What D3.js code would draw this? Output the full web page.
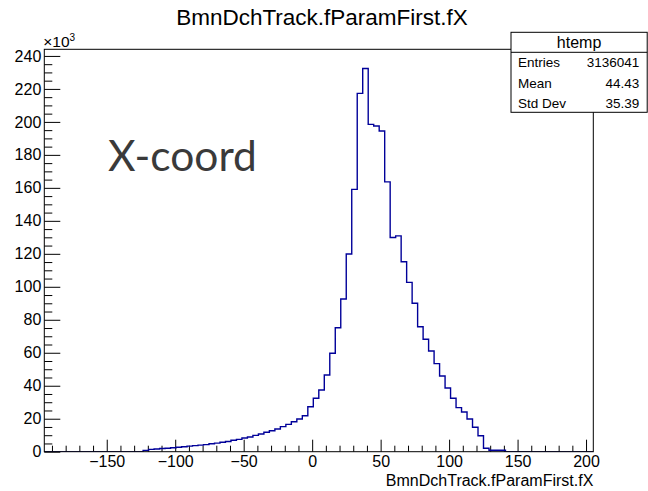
<!DOCTYPE html>
<html>
<head>
<meta charset="utf-8">
<script src="https://cdn.jsdelivr.net/npm/d3@7"></script>
<style>
  html, body { margin: 0; padding: 0; background: #fff; }
  svg { display: block; }
  text { font-family: "Liberation Sans", Arial, Helvetica, sans-serif; }
</style>
</head>
<body>
<svg id="chart" width="648" height="491"></svg>
<script>
// ---- data -------------------------------------------------------------
const plotTitle = "BmnDchTrack.fParamFirst.fX";
const xTitle = "BmnDchTrack.fParamFirst.fX";
const noteText = "X-coord";

// histogram binning (100 equal bins)
const binLow = -195.6;
const binHigh = 205.3;
const nBins = 100;
const firstFilledBin = 18;

// bin contents in thousands of entries, bins 18 .. 83
const binCountsK = [
  0.8, 1.4, 1.6, 1.9, 2.1, 2.4, 2.7, 3.0, 3.4, 3.7,
  4.0, 4.3, 4.8, 5.2, 5.7, 6.2, 6.9, 7.5, 8.3, 8.9,
  9.9, 10.7, 11.8, 12.7, 13.8, 15.2, 16.6, 18.2, 19.8, 21.8,
  27.3, 32.4, 37.4, 46.5, 59.7, 75.2, 92.6, 119.9, 159.1, 217.3,
  232.4, 198.5, 197.5, 194.5, 163.6, 129.9, 130.9, 115.2, 102.7, 90.0,
  75.8, 68.2, 61.1, 53.4, 45.9, 38.6, 32.4, 26.7, 24.1, 19.8,
  14.8, 9.7, 2.1, 0.9, 0.9, 0.9
];

const xMajorTicks = [-150, -100, -50, 0, 50, 100, 150, 200];
const yMajorTicks = [0, 20, 40, 60, 80, 100, 120, 140, 160, 180, 200, 220, 240];
const statsTitle = "htemp";
const statsLabels = ["Entries", "Mean", "Std Dev"];
const statsValues = ["3136041", "44.43", "35.39"];

// ---- layout -----------------------------------------------------------
const frame = { left: 44.3, right: 593.3, top: 49.3, bottom: 451.7 };
const lineColor = "#000099";

const svg = d3.select("#chart");

// full set of bins, zero outside the filled range
const binWidth = (binHigh - binLow) / nBins;
const bins = d3.range(nBins).map(i => {
  const k = i - firstFilledBin;
  const v = (k >= 0 && k < binCountsK.length) ? binCountsK[k] : 0;
  return { lo: binLow + i * binWidth, hi: binLow + (i + 1) * binWidth, v };
});

const x = d3.scaleLinear().domain([binLow, binHigh]).range([frame.left, frame.right]);
const yMax = 1.05 * d3.max(bins, d => d.v);
const y = d3.scaleLinear().domain([0, yMax]).range([frame.bottom, frame.top]);

// ---- axes -------------------------------------------------------------
const xMinor = d3.range(-190, 210, 10).filter(v => v % 50 !== 0);
const yMinor = d3.range(0, yMax, 5).filter(v => v % 20 !== 0);

const axisG = svg.append("g");

// x axis: ticks point up into the frame
axisG.append("g")
  .attr("transform", `translate(0,${frame.bottom})`)
  .call(d3.axisBottom(x).tickValues(xMinor).tickSize(-6).tickFormat(""))
  .call(g => g.select(".domain").remove());
axisG.append("g")
  .attr("class", "xmaj")
  .attr("transform", `translate(0,${frame.bottom})`)
  .call(d3.axisBottom(x).tickValues(xMajorTicks).tickSize(-12).tickPadding(3.5)
        .tickFormat(d => d < 0 ? "\u2212" + Math.abs(d) : String(d)))
  .call(g => g.select(".domain").remove());

// y axis: ticks point right into the frame
axisG.append("g")
  .attr("transform", `translate(${frame.left},0)`)
  .call(d3.axisLeft(y).tickValues(yMinor).tickSize(-8).tickFormat(""))
  .call(g => g.select(".domain").remove());
axisG.append("g")
  .attr("class", "ymaj")
  .attr("transform", `translate(${frame.left},0)`)
  .call(d3.axisLeft(y).tickValues(yMajorTicks).tickSize(-16).tickPadding(3))
  .call(g => g.select(".domain").remove());

axisG.selectAll(".tick line").attr("stroke", "#000").attr("stroke-width", 1);
axisG.selectAll(".tick text")
  .attr("fill", "#000")
  .style("font-family", "'Liberation Sans', Arial, sans-serif")
  .style("font-size", "16px");

// ---- histogram outline ------------------------------------------------
svg.append("clipPath").attr("id", "frameClip")
  .append("rect")
  .attr("x", frame.left).attr("y", frame.top)
  .attr("width", frame.right - frame.left)
  .attr("height", frame.bottom - frame.top);

const pts = [[x(binLow), y(0)]];
bins.forEach(b => { pts.push([x(b.lo), y(b.v)]); pts.push([x(b.hi), y(b.v)]); });
pts.push([x(binHigh), y(0)]);

svg.append("path")
  .attr("clip-path", "url(#frameClip)")
  .attr("d", d3.line()(pts))
  .attr("fill", "none")
  .attr("stroke", lineColor)
  .attr("stroke-width", 1.4)
  .attr("stroke-linejoin", "miter");

// frame box
svg.append("rect")
  .attr("x", frame.left).attr("y", frame.top)
  .attr("width", frame.right - frame.left)
  .attr("height", frame.bottom - frame.top)
  .attr("fill", "none").attr("stroke", "#000").attr("stroke-width", 1);

// exponent label above the y axis
const expo = svg.append("text")
  .attr("x", frame.left - 1).attr("y", 46.5)
  .style("font-size", "15.5px").attr("fill", "#000");
expo.append("tspan").text("\u00d710");
expo.append("tspan").attr("dy", -6).style("font-size", "10px").text("3");

// ---- titles -----------------------------------------------------------
svg.append("text")
  .attr("x", 322).attr("y", 25)
  .attr("text-anchor", "middle")
  .style("font-size", "22.5px").attr("fill", "#000")
  .text(plotTitle);

svg.append("text")
  .attr("x", frame.right).attr("y", 486)
  .attr("text-anchor", "end")
  .style("font-size", "16px").attr("fill", "#000")
  .text(xTitle);

// ---- statistics box ---------------------------------------------------
const sb = { x: 511, y: 32.3, w: 136.2, h: 80, head: 20 };
const stats = svg.append("g");
stats.append("rect")
  .attr("x", sb.x).attr("y", sb.y).attr("width", sb.w).attr("height", sb.h)
  .attr("fill", "#fff").attr("stroke", "#000").attr("stroke-width", 1);
stats.append("line")
  .attr("x1", sb.x).attr("x2", sb.x + sb.w)
  .attr("y1", sb.y + sb.head).attr("y2", sb.y + sb.head)
  .attr("stroke", "#000");
stats.append("text")
  .attr("x", sb.x + sb.w / 2).attr("y", sb.y + 15.5)
  .attr("text-anchor", "middle")
  .style("font-size", "16px").text(statsTitle);
statsLabels.forEach((lab, i) => {
  const by = sb.y + sb.head + 14.5 + i * 20.7;
  stats.append("text").attr("x", sb.x + 7).attr("y", by)
    .style("font-size", "13.5px").text(lab);
  stats.append("text").attr("x", sb.x + sb.w - 8).attr("y", by)
    .attr("text-anchor", "end")
    .style("font-size", "13.5px").text(statsValues[i]);
});

// ---- annotation -------------------------------------------------------
svg.append("text")
  .attr("x", 108).attr("y", 171)
  .style("font-family", "Lato, 'Open Sans', sans-serif")
  .style("font-size", "42.5px")
  .attr("fill", "#3a3a3a")
  .text(noteText);
</script>
</body>
</html>
